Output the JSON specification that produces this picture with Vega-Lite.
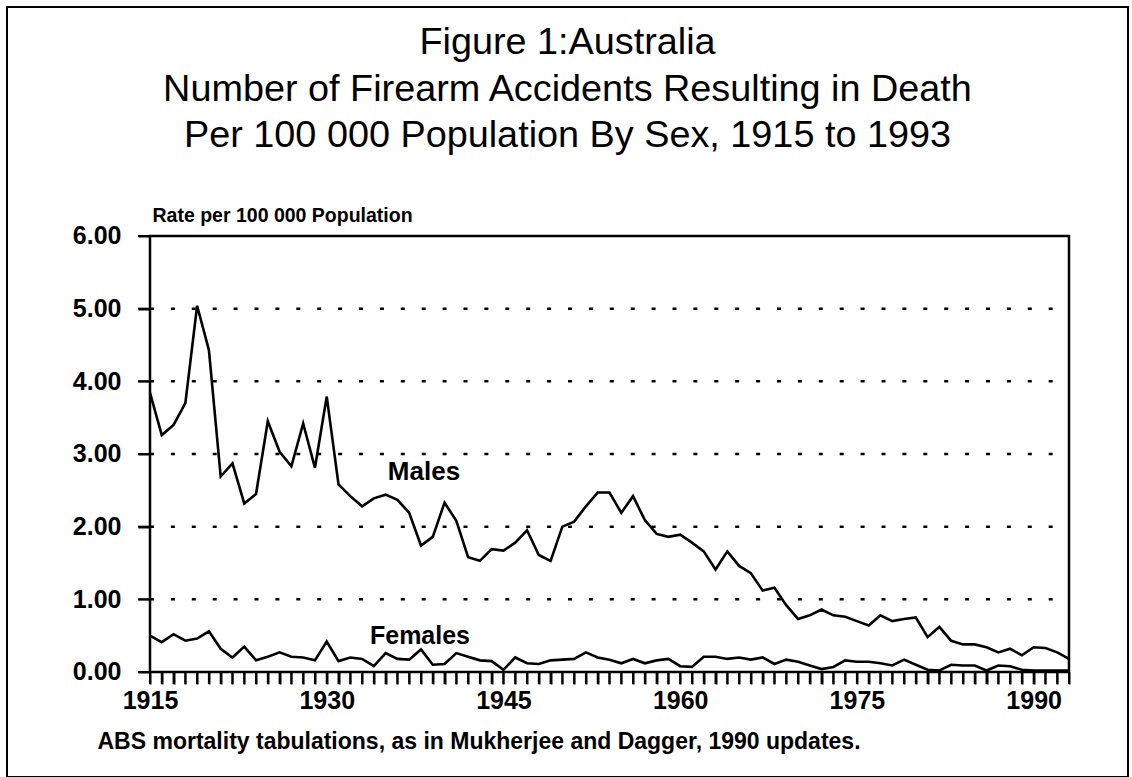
{
  "$schema": "https://vega.github.io/schema/vega-lite/v6.json",
  "autosize": "none",
  "width": 1121,
  "height": 770,
  "padding": {"left": 7, "top": 7, "right": 4, "bottom": 0},
  "background": "white",
  "title": {
    "text": ["Figure 1:Australia", "Number of Firearm Accidents Resulting in Death", "Per 100 000 Population By Sex, 1915 to 1993"],
    "anchor": "middle",
    "frame": "group",
    "offset": -148,
    "fontSize": 37.8,
    "fontWeight": "normal",
    "font": "Liberation Sans",
    "color": "black",
    "lineHeight": 46.5
  },
  "datasets": {
    "rates": [
      {"Year":1915,"Sex":"Males","Rate":3.84},{"Year":1916,"Sex":"Males","Rate":3.26},{"Year":1917,"Sex":"Males","Rate":3.40},{"Year":1918,"Sex":"Males","Rate":3.70},{"Year":1919,"Sex":"Males","Rate":5.04},
      {"Year":1920,"Sex":"Males","Rate":4.43},{"Year":1921,"Sex":"Males","Rate":2.69},{"Year":1922,"Sex":"Males","Rate":2.87},{"Year":1923,"Sex":"Males","Rate":2.32},{"Year":1924,"Sex":"Males","Rate":2.45},
      {"Year":1925,"Sex":"Males","Rate":3.45},{"Year":1926,"Sex":"Males","Rate":3.03},{"Year":1927,"Sex":"Males","Rate":2.83},{"Year":1928,"Sex":"Males","Rate":3.42},{"Year":1929,"Sex":"Males","Rate":2.81},
      {"Year":1930,"Sex":"Males","Rate":3.79},{"Year":1931,"Sex":"Males","Rate":2.58},{"Year":1932,"Sex":"Males","Rate":2.42},{"Year":1933,"Sex":"Males","Rate":2.28},{"Year":1934,"Sex":"Males","Rate":2.39},
      {"Year":1935,"Sex":"Males","Rate":2.44},{"Year":1936,"Sex":"Males","Rate":2.37},{"Year":1937,"Sex":"Males","Rate":2.19},{"Year":1938,"Sex":"Males","Rate":1.74},{"Year":1939,"Sex":"Males","Rate":1.86},
      {"Year":1940,"Sex":"Males","Rate":2.33},{"Year":1941,"Sex":"Males","Rate":2.08},{"Year":1942,"Sex":"Males","Rate":1.58},{"Year":1943,"Sex":"Males","Rate":1.53},{"Year":1944,"Sex":"Males","Rate":1.69},
      {"Year":1945,"Sex":"Males","Rate":1.67},{"Year":1946,"Sex":"Males","Rate":1.78},{"Year":1947,"Sex":"Males","Rate":1.95},{"Year":1948,"Sex":"Males","Rate":1.61},{"Year":1949,"Sex":"Males","Rate":1.53},
      {"Year":1950,"Sex":"Males","Rate":2.00},{"Year":1951,"Sex":"Males","Rate":2.07},{"Year":1952,"Sex":"Males","Rate":2.28},{"Year":1953,"Sex":"Males","Rate":2.47},{"Year":1954,"Sex":"Males","Rate":2.47},
      {"Year":1955,"Sex":"Males","Rate":2.19},{"Year":1956,"Sex":"Males","Rate":2.42},{"Year":1957,"Sex":"Males","Rate":2.09},{"Year":1958,"Sex":"Males","Rate":1.90},{"Year":1959,"Sex":"Males","Rate":1.86},
      {"Year":1960,"Sex":"Males","Rate":1.89},{"Year":1961,"Sex":"Males","Rate":1.78},{"Year":1962,"Sex":"Males","Rate":1.66},{"Year":1963,"Sex":"Males","Rate":1.41},{"Year":1964,"Sex":"Males","Rate":1.66},
      {"Year":1965,"Sex":"Males","Rate":1.46},{"Year":1966,"Sex":"Males","Rate":1.36},{"Year":1967,"Sex":"Males","Rate":1.12},{"Year":1968,"Sex":"Males","Rate":1.16},{"Year":1969,"Sex":"Males","Rate":0.92},
      {"Year":1970,"Sex":"Males","Rate":0.73},{"Year":1971,"Sex":"Males","Rate":0.78},{"Year":1972,"Sex":"Males","Rate":0.86},{"Year":1973,"Sex":"Males","Rate":0.78},{"Year":1974,"Sex":"Males","Rate":0.76},
      {"Year":1975,"Sex":"Males","Rate":0.70},{"Year":1976,"Sex":"Males","Rate":0.64},{"Year":1977,"Sex":"Males","Rate":0.78},{"Year":1978,"Sex":"Males","Rate":0.70},{"Year":1979,"Sex":"Males","Rate":0.73},
      {"Year":1980,"Sex":"Males","Rate":0.75},{"Year":1981,"Sex":"Males","Rate":0.48},{"Year":1982,"Sex":"Males","Rate":0.62},{"Year":1983,"Sex":"Males","Rate":0.43},{"Year":1984,"Sex":"Males","Rate":0.38},
      {"Year":1985,"Sex":"Males","Rate":0.38},{"Year":1986,"Sex":"Males","Rate":0.34},{"Year":1987,"Sex":"Males","Rate":0.27},{"Year":1988,"Sex":"Males","Rate":0.32},{"Year":1989,"Sex":"Males","Rate":0.23},
      {"Year":1990,"Sex":"Males","Rate":0.34},{"Year":1991,"Sex":"Males","Rate":0.33},{"Year":1992,"Sex":"Males","Rate":0.27},{"Year":1993,"Sex":"Males","Rate":0.18},
      {"Year":1915,"Sex":"Females","Rate":0.50},{"Year":1916,"Sex":"Females","Rate":0.41},{"Year":1917,"Sex":"Females","Rate":0.52},{"Year":1918,"Sex":"Females","Rate":0.43},{"Year":1919,"Sex":"Females","Rate":0.46},
      {"Year":1920,"Sex":"Females","Rate":0.56},{"Year":1921,"Sex":"Females","Rate":0.32},{"Year":1922,"Sex":"Females","Rate":0.20},{"Year":1923,"Sex":"Females","Rate":0.35},{"Year":1924,"Sex":"Females","Rate":0.16},
      {"Year":1925,"Sex":"Females","Rate":0.21},{"Year":1926,"Sex":"Females","Rate":0.27},{"Year":1927,"Sex":"Females","Rate":0.21},{"Year":1928,"Sex":"Females","Rate":0.20},{"Year":1929,"Sex":"Females","Rate":0.16},
      {"Year":1930,"Sex":"Females","Rate":0.42},{"Year":1931,"Sex":"Females","Rate":0.15},{"Year":1932,"Sex":"Females","Rate":0.20},{"Year":1933,"Sex":"Females","Rate":0.18},{"Year":1934,"Sex":"Females","Rate":0.08},
      {"Year":1935,"Sex":"Females","Rate":0.26},{"Year":1936,"Sex":"Females","Rate":0.18},{"Year":1937,"Sex":"Females","Rate":0.17},{"Year":1938,"Sex":"Females","Rate":0.31},{"Year":1939,"Sex":"Females","Rate":0.10},
      {"Year":1940,"Sex":"Females","Rate":0.11},{"Year":1941,"Sex":"Females","Rate":0.26},{"Year":1942,"Sex":"Females","Rate":0.21},{"Year":1943,"Sex":"Females","Rate":0.16},{"Year":1944,"Sex":"Females","Rate":0.15},
      {"Year":1945,"Sex":"Females","Rate":0.03},{"Year":1946,"Sex":"Females","Rate":0.20},{"Year":1947,"Sex":"Females","Rate":0.12},{"Year":1948,"Sex":"Females","Rate":0.11},{"Year":1949,"Sex":"Females","Rate":0.16},
      {"Year":1950,"Sex":"Females","Rate":0.17},{"Year":1951,"Sex":"Females","Rate":0.18},{"Year":1952,"Sex":"Females","Rate":0.27},{"Year":1953,"Sex":"Females","Rate":0.20},{"Year":1954,"Sex":"Females","Rate":0.17},
      {"Year":1955,"Sex":"Females","Rate":0.12},{"Year":1956,"Sex":"Females","Rate":0.18},{"Year":1957,"Sex":"Females","Rate":0.12},{"Year":1958,"Sex":"Females","Rate":0.16},{"Year":1959,"Sex":"Females","Rate":0.18},
      {"Year":1960,"Sex":"Females","Rate":0.08},{"Year":1961,"Sex":"Females","Rate":0.07},{"Year":1962,"Sex":"Females","Rate":0.21},{"Year":1963,"Sex":"Females","Rate":0.21},{"Year":1964,"Sex":"Females","Rate":0.18},
      {"Year":1965,"Sex":"Females","Rate":0.20},{"Year":1966,"Sex":"Females","Rate":0.17},{"Year":1967,"Sex":"Females","Rate":0.20},{"Year":1968,"Sex":"Females","Rate":0.11},{"Year":1969,"Sex":"Females","Rate":0.17},
      {"Year":1970,"Sex":"Females","Rate":0.14},{"Year":1971,"Sex":"Females","Rate":0.09},{"Year":1972,"Sex":"Females","Rate":0.04},{"Year":1973,"Sex":"Females","Rate":0.07},{"Year":1974,"Sex":"Females","Rate":0.16},
      {"Year":1975,"Sex":"Females","Rate":0.14},{"Year":1976,"Sex":"Females","Rate":0.14},{"Year":1977,"Sex":"Females","Rate":0.12},{"Year":1978,"Sex":"Females","Rate":0.09},{"Year":1979,"Sex":"Females","Rate":0.17},
      {"Year":1980,"Sex":"Females","Rate":0.10},{"Year":1981,"Sex":"Females","Rate":0.03},{"Year":1982,"Sex":"Females","Rate":0.02},{"Year":1983,"Sex":"Females","Rate":0.10},{"Year":1984,"Sex":"Females","Rate":0.09},
      {"Year":1985,"Sex":"Females","Rate":0.09},{"Year":1986,"Sex":"Females","Rate":0.02},{"Year":1987,"Sex":"Females","Rate":0.09},{"Year":1988,"Sex":"Females","Rate":0.08},{"Year":1989,"Sex":"Females","Rate":0.03},
      {"Year":1990,"Sex":"Females","Rate":0.02},{"Year":1991,"Sex":"Females","Rate":0.02},{"Year":1992,"Sex":"Females","Rate":0.02},{"Year":1993,"Sex":"Females","Rate":0.02}
    ]
  },
  "layer": [
    {
      "data": {"name": "rates"},
      "mark": {"type": "line", "color": "black", "strokeWidth": 2.6, "strokeJoin": "miter"},
      "encoding": {
        "x": {
          "field": "Year", "type": "quantitative",
          "scale": {"domain": [1902.863, 1998.008], "nice": false, "zero": false},
          "axis": {
            "values": [1915,1916,1917,1918,1919,1920,1921,1922,1923,1924,1925,1926,1927,1928,1929,1930,1931,1932,1933,1934,1935,1936,1937,1938,1939,1940,1941,1942,1943,1944,1945,1946,1947,1948,1949,1950,1951,1952,1953,1954,1955,1956,1957,1958,1959,1960,1961,1962,1963,1964,1965,1966,1967,1968,1969,1970,1971,1972,1973,1974,1975,1976,1977,1978,1979,1980,1981,1982,1983,1984,1985,1986,1987,1988,1989,1990,1991,1992,1993],
            "tickCount": 200,
            "labelExpr": "(datum.value - 1915) % 15 === 0 ? format(datum.value, 'd') : ''",
            "title": "ABS mortality tabulations, as in Mukherjee and Dagger, 1990 updates."
          }
        },
        "y": {
          "field": "Rate", "type": "quantitative",
          "scale": {"domain": [-1.445, 9.151], "nice": false, "zero": false},
          "axis": {
            "values": [0, 1, 2, 3, 4, 5, 6], "tickCount": 50, "format": ".2f",
            "title": "Rate per 100 000 Population"
          }
        },
        "detail": {"field": "Sex", "type": "nominal"}
      }
    },
    {
      "data": {"values": [1, 2, 3, 4, 5]},
      "mark": {"type": "rule", "color": "black", "strokeWidth": 2.5, "strokeDash": [4, 16.9]},
      "encoding": {
        "x": {"datum": 1915, "type": "quantitative"},
        "x2": {"datum": 1993},
        "y": {"field": "data", "type": "quantitative"}
      }
    },
    {
      "data": {"values": [0, 1, 2, 3, 4, 5, 6]},
      "mark": {"type": "tick", "orient": "horizontal", "size": 12, "thickness": 2, "xOffset": -6, "color": "black", "opacity": 1},
      "encoding": {
        "x": {"datum": 1915, "type": "quantitative"},
        "y": {"field": "data", "type": "quantitative"}
      }
    },
    {
      "data": {"name": "rates"},
      "transform": [{"filter": "datum.Sex === 'Males'"}],
      "mark": {"type": "tick", "orient": "vertical", "size": 12, "thickness": 2, "yOffset": 6, "color": "black", "opacity": 1},
      "encoding": {
        "x": {"field": "Year", "type": "quantitative"},
        "y": {"datum": 0, "type": "quantitative"}
      }
    },
    {
      "data": {"values": [{}]},
      "mark": {"type": "rect", "fill": null, "fillOpacity": 0, "stroke": "black", "strokeWidth": 2.5},
      "encoding": {
        "x": {"datum": 1915, "type": "quantitative"},
        "x2": {"datum": 1993},
        "y": {"datum": 0, "type": "quantitative"},
        "y2": {"datum": 6}
      }
    },
    {
      "data": {"name": "rates"},
      "transform": [{"filter": "datum.Year === 1938 && datum.Sex === 'Males'"}],
      "mark": {"type": "text", "dx": 3, "dy": -74, "fontSize": 26, "fontWeight": "bold", "color": "black", "align": "center", "baseline": "middle"},
      "encoding": {
        "x": {"field": "Year", "type": "quantitative"},
        "y": {"field": "Rate", "type": "quantitative"},
        "text": {"field": "Sex"}
      }
    },
    {
      "data": {"name": "rates"},
      "transform": [{"filter": "datum.Year === 1938 && datum.Sex === 'Females'"}],
      "mark": {"type": "text", "dx": -1, "dy": -13.5, "fontSize": 25, "fontWeight": "bold", "color": "black", "align": "center", "baseline": "middle"},
      "encoding": {
        "x": {"field": "Year", "type": "quantitative"},
        "y": {"field": "Rate", "type": "quantitative"},
        "text": {"field": "Sex"}
      }
    }
  ],
  "config": {
    "font": "Liberation Sans",
    "view": {"stroke": "black", "strokeWidth": 2},
    "axis": {
      "domain": false, "grid": false, "ticks": true,
      "tickSize": 12, "tickWidth": 2, "tickColor": "black", "tickOpacity": 1,
      "labelOverlap": false, "labelFlush": false, "labelBound": false,
      "labelFontSize": 25, "labelFontWeight": "bold", "labelColor": "black",
      "titleColor": "black", "zindex": 1
    },
    "axisX": {
      "orient": "bottom", "offset": -105, "labelPadding": 4,
      "titleX": 90, "titleY": 76, "titleAlign": "left", "titleAnchor": "start", "titleBaseline": "alphabetic",
      "titleFontSize": 23, "titleFontWeight": "bold"
    },
    "axisY": {
      "orient": "left", "offset": -143, "labelPadding": 17,
      "titleAngle": 0, "titleX": 2, "titleY": 214, "titleAlign": "left", "titleBaseline": "alphabetic",
      "titleFontSize": 19.5, "titleFontWeight": "bold"
    }
  }
}
